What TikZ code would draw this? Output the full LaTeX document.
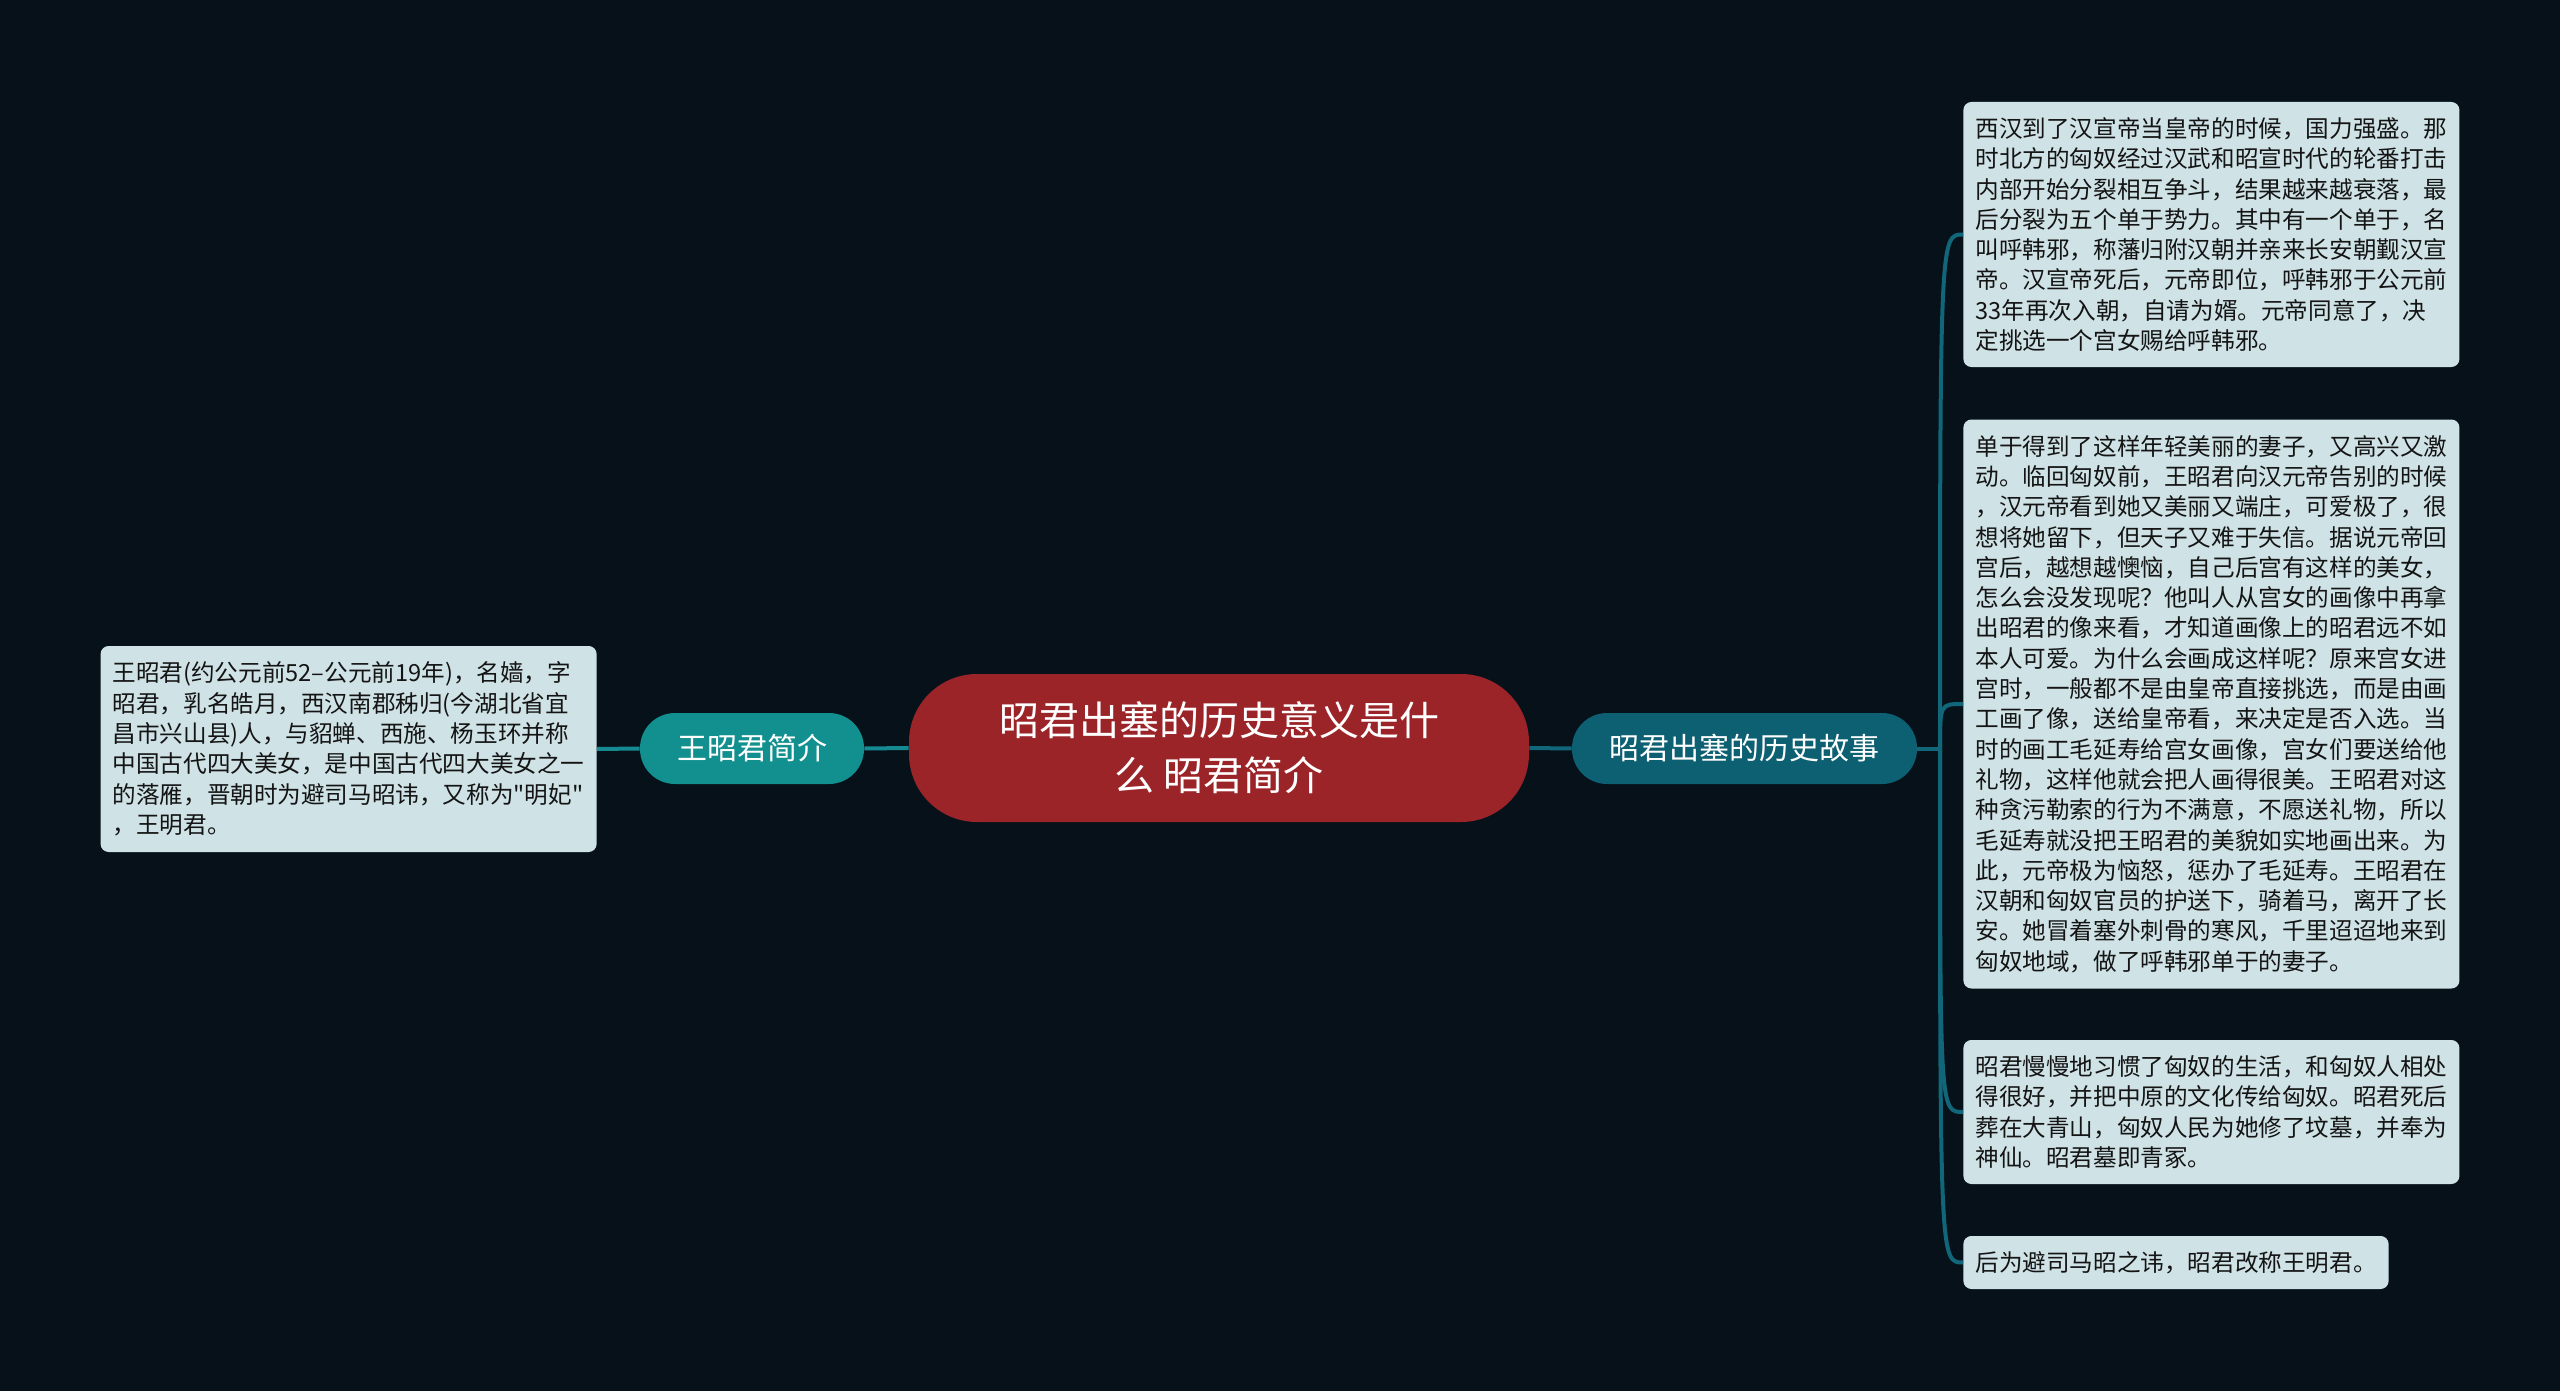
\documentclass[tikz,border=0pt]{standalone}
\usepackage{fontspec}
\newfontfamily\cjk{Noto Sans CJK SC}
\definecolor{bgc}{HTML}{06111A}
\definecolor{rootred}{HTML}{9B2428}
\definecolor{tealL}{HTML}{12908F}
\definecolor{tealR}{HTML}{0D5F72}
\definecolor{notefill}{HTML}{CFE2E6}
\definecolor{notetext}{HTML}{141414}
\definecolor{lineL}{HTML}{168A92}
\definecolor{lineR}{HTML}{11667A}
\tikzset{
  rootnode/.style={fill=rootred, text=white, rounded corners=34pt, minimum width=310pt, minimum height=74pt, align=center, inner sep=0pt, font=\cjk\fontsize{20pt}{27.5pt}\selectfont},
  branchnode/.style={text=white, rounded corners=17.5pt, minimum height=35.5pt, inner sep=0pt, font=\cjk\fontsize{15pt}{18pt}\selectfont},
  notebox/.style={fill=notefill, text=notetext, rounded corners=4pt, align=left, inner xsep=6pt, inner ysep=3pt, font=\cjk\fontsize{11.8pt}{15.15pt}\selectfont},
  linkL/.style={draw=lineL, line width=2pt},
  linkR/.style={draw=lineR, line width=2pt}
}
\begin{document}
\begin{tikzpicture}[x=0.5pt,y=-0.5pt]
\fill[bgc] (0,0) rectangle (2560,1391);
\useasboundingbox (0,0) rectangle (2560,1391);

\node[rootnode] (root) at (1219,748) {昭君出塞的历史意义是什\\么 昭君简介};
\node[branchnode, fill=tealL, minimum width=112pt] (lbr) at (752,748.5) {王昭君简介};
\node[branchnode, fill=tealR, minimum width=172.5pt] (rbr) at (1744.5,748.5) {昭君出塞的历史故事};

\node[notebox, anchor=east, minimum height=103pt] (lbox) at (597,749) {王昭君(约公元前52–公元前19年)，名嫱，字\\昭君，乳名皓月，西汉南郡秭归(今湖北省宜\\昌市兴山县)人，与貂蝉、西施、杨玉环并称\\中国古代四大美女，是中国古代四大美女之一\\的落雁，晋朝时为避司马昭讳，又称为"明妃"\\，王明君。};

\node[notebox, anchor=west, minimum height=132.5pt] (b1) at (1963,234.5) {西汉到了汉宣帝当皇帝的时候，国力强盛。那\\时北方的匈奴经过汉武和昭宣时代的轮番打击\\内部开始分裂相互争斗，结果越来越衰落，最\\后分裂为五个单于势力。其中有一个单于，名\\叫呼韩邪，称藩归附汉朝并亲来长安朝觐汉宣\\帝。汉宣帝死后，元帝即位，呼韩邪于公元前\\33年再次入朝，自请为婿。元帝同意了，决\\定挑选一个宫女赐给呼韩邪。};

\node[notebox, anchor=west, minimum height=284.5pt] (b2) at (1963,704) {单于得到了这样年轻美丽的妻子，又高兴又激\\动。临回匈奴前，王昭君向汉元帝告别的时候\\，汉元帝看到她又美丽又端庄，可爱极了，很\\想将她留下，但天子又难于失信。据说元帝回\\宫后，越想越懊恼，自己后宫有这样的美女，\\怎么会没发现呢？他叫人从宫女的画像中再拿\\出昭君的像来看，才知道画像上的昭君远不如\\本人可爱。为什么会画成这样呢？原来宫女进\\宫时，一般都不是由皇帝直接挑选，而是由画\\工画了像，送给皇帝看，来决定是否入选。当\\时的画工毛延寿给宫女画像，宫女们要送给他\\礼物，这样他就会把人画得很美。王昭君对这\\种贪污勒索的行为不满意，不愿送礼物，所以\\毛延寿就没把王昭君的美貌如实地画出来。为\\此，元帝极为恼怒，惩办了毛延寿。王昭君在\\汉朝和匈奴官员的护送下，骑着马，离开了长\\安。她冒着塞外刺骨的寒风，千里迢迢地来到\\匈奴地域，做了呼韩邪单于的妻子。};

\node[notebox, anchor=west, minimum height=72pt] (b3) at (1963,1112) {昭君慢慢地习惯了匈奴的生活，和匈奴人相处\\得很好，并把中原的文化传给匈奴。昭君死后\\葬在大青山，匈奴人民为她修了坟墓，并奉为\\神仙。昭君墓即青冢。};

\node[notebox, anchor=west, minimum height=26.5pt] (b4) at (1963,1262.5) {后为避司马昭之讳，昭君改称王明君。};

\coordinate (hub) at (1940,748.5);

\draw[linkL] (lbox.east) -- (lbr.west);
\draw[linkL] (lbr.east) -- (root.west);
\draw[linkR] (root.east) -- (rbr.west);
\draw[linkR] (rbr.east) -- (hub);
\foreach \b in {b1,b2,b3,b4}{
  \draw[linkR] (hub) .. controls (hub |- \b.west) .. (\b.west);
}
\end{tikzpicture}
\end{document}
